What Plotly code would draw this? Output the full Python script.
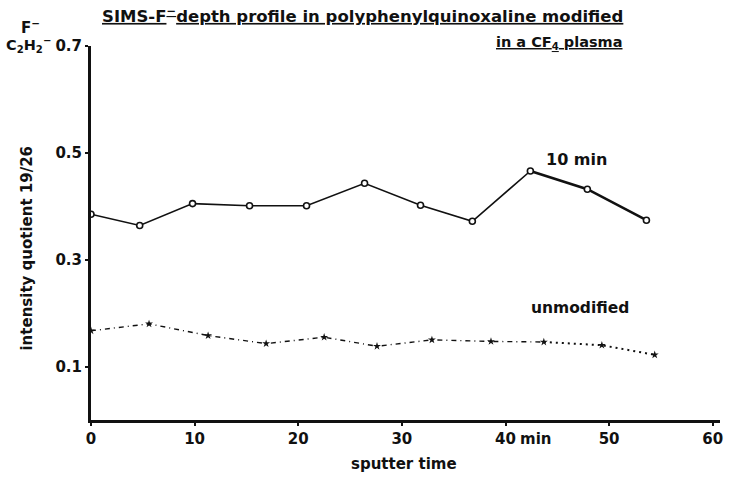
import plotly.graph_objects as go

# sputter time (min) and intensity quotient 19/26 for the CF4-plasma-treated film (10 min)
t_10min = [0, 4.7, 9.8, 15.3, 20.8, 26.4, 31.8, 36.8, 42.4, 47.9, 53.6]
q_10min = [0.385, 0.364, 0.405, 0.401, 0.401, 0.443, 0.402, 0.372, 0.466, 0.432, 0.374]

# untreated reference film
t_unmod = [0, 5.6, 11.3, 16.9, 22.5, 27.6, 32.9, 38.6, 43.7, 49.3, 54.4]
q_unmod = [0.167, 0.180, 0.158, 0.143, 0.155, 0.138, 0.150, 0.147, 0.146, 0.140, 0.122]

x_ticks = [0, 10, 20, 30, 40, 50, 60]
x_tick_text = ["0", "10", "20", "30", "40", "50", "60"]
y_ticks = [0.1, 0.3, 0.5, 0.7]
y_tick_text = ["0.1", "0.3", "0.5", "0.7"]

FONT = "DejaVu Sans"
BLACK = "#111111"

fig = go.Figure()

# untreated: dash-dot segment, then dotted tail
fig.add_trace(go.Scatter(
    x=t_unmod[:9], y=q_unmod[:9], mode="lines",
    line=dict(color=BLACK, width=1.4, dash="5px,4px,1px,4px"),
    hoverinfo="skip", showlegend=False))
fig.add_trace(go.Scatter(
    x=t_unmod[8:], y=q_unmod[8:], mode="lines",
    line=dict(color=BLACK, width=2, dash="2px,4px"),
    hoverinfo="skip", showlegend=False))
fig.add_trace(go.Scatter(
    x=t_unmod, y=q_unmod, mode="markers",
    marker=dict(symbol="star", size=6, color=BLACK),
    showlegend=False))

# 10 min plasma treatment: solid line, last stretch heavier
fig.add_trace(go.Scatter(
    x=t_10min[:9], y=q_10min[:9], mode="lines",
    line=dict(color=BLACK, width=1.6),
    hoverinfo="skip", showlegend=False))
fig.add_trace(go.Scatter(
    x=t_10min[8:], y=q_10min[8:], mode="lines",
    line=dict(color=BLACK, width=2.6),
    hoverinfo="skip", showlegend=False))
fig.add_trace(go.Scatter(
    x=t_10min, y=q_10min, mode="markers",
    marker=dict(symbol="circle", size=6, color="white",
                line=dict(color=BLACK, width=1.6)),
    showlegend=False))

L, R, T, B = 91, 6, 46, 56.5
W, H = 729, 477
pw, ph = W - L - R, H - T - B
X_MAX, Y_MAX = 60.7, 0.7


def px(xp):
    return (xp - L) / pw


def py(yp):
    return (H - B - yp) / ph


def bold(size=15):
    return dict(family=FONT, size=size, color=BLACK, weight="bold")


annotations = [
    dict(text="<u>SIMS-F<sup>−</sup>depth profile in polyphenylquinoxaline modified</u>",
         x=px(628), y=py(15), xanchor="right", yanchor="middle", font=bold(16.5)),
    dict(text="<u>in a CF<sub>4</sub> plasma</u>",
         x=px(628), y=py(43), xanchor="right", yanchor="middle", font=bold(14.5)),
    dict(text="F<sup>−</sup>", x=px(30), y=py(27), xanchor="center", yanchor="middle",
         font=bold()),
    dict(text="C<sub>2</sub>H<sub>2</sub><sup>−</sup>", x=px(53), y=py(45),
         xanchor="right", yanchor="middle", font=bold(14.5)),
    dict(text="intensity quotient 19/26", x=px(27), y=py(248.5), textangle=-90,
         xanchor="center", yanchor="middle", font=bold()),
    dict(text="sputter time", x=px(405), y=py(465), xanchor="center", yanchor="middle",
         font=bold()),
    # unit appended after the "40" tick label
    dict(text="min", x=px(520), y=py(440), xanchor="left", yanchor="middle",
         font=bold()),
    dict(text="10 min", x=px(578.5) * X_MAX, y=py(160) * Y_MAX,
         xref="x", yref="y", xanchor="center", yanchor="middle", font=bold(16)),
    dict(text="unmodified", x=px(582) * X_MAX, y=py(308) * Y_MAX,
         xref="x", yref="y", xanchor="center", yanchor="middle", font=bold(15.5)),
]
for a in annotations:
    a.setdefault("xref", "paper")
    a.setdefault("yref", "paper")
    a["showarrow"] = False

fig.update_layout(
    width=W, height=H,
    margin=dict(l=L, r=R, t=T, b=B, pad=0),
    paper_bgcolor="white", plot_bgcolor="white",
    annotations=annotations,
    xaxis=dict(range=[0, X_MAX], tickvals=x_ticks, ticktext=x_tick_text,
               showgrid=False, zeroline=False, showline=True,
               linecolor=BLACK, linewidth=3, ticks="outside", ticklen=3,
               tickcolor=BLACK, tickwidth=2, tickfont=bold()),
    yaxis=dict(range=[0, Y_MAX], tickvals=y_ticks, ticktext=y_tick_text,
               showgrid=False, zeroline=False, showline=True,
               linecolor=BLACK, linewidth=3, ticks="outside", ticklen=3,
               tickcolor=BLACK, tickwidth=2, tickfont=bold()),
)

fig.write_html("out.html")
